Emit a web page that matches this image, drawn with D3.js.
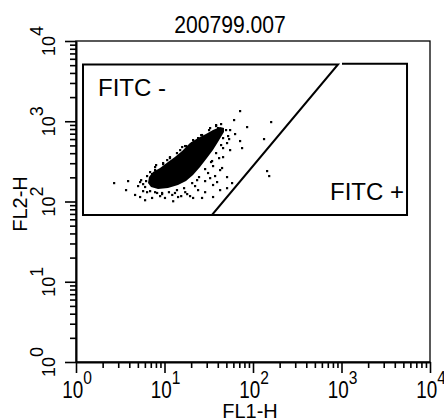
<!DOCTYPE html>
<html>
<head>
<meta charset="utf-8">
<script src="https://cdn.jsdelivr.net/npm/d3@7"></script>
<style>
  html, body { margin: 0; padding: 0; background: #fff; }
  text { font-family: "Liberation Sans", Arial, Helvetica, sans-serif; fill: #000; }
</style>
</head>
<body>
<div id="chart"></div>
<script>
// Chart text
const title = "200799.007";
const xLabel = "FL1-H";
const yLabel = "FL2-H";
const decades = [1, 10, 100, 1000, 10000];
const exponents = ["0", "1", "2", "3", "4"];

// Events [FL1, FL2]
const events = [
  [71.3, 1342], [61.0, 1037], [160, 979], [85.6, 848], [133, 601], [71.3, 568],
  [75.1, 464], [62.6, 694], [45.8, 358], [44.6, 262], [144, 240], [152, 208],
  [57.9, 170], [50.8, 147], [42.4, 139], [35.3, 161], [35.3, 114], [28.7, 131],
  [26.5, 111], [18.0, 124], [23.3, 185], [31.0, 227], [35.3, 277], [34.4, 320],
  [45.8, 464], [50.8, 536], [52.2, 655], [39.2, 175], [50.8, 202], [41.3, 348],
  [21.0, 111], [2.69, 170], [3.87, 180], [3.67, 139], [5.02, 156], [4.64, 121],
  [5.29, 114], [6.02, 104], [7.22, 111], [8.90, 117], [12.5, 101], [12.2, 121],
  [14.2, 114], [7.81, 247], [7.22, 220], [6.02, 152], [6.34, 131], [15.0, 438],
  [18.4, 478], [20.5, 536], [10.7, 329], [9.62, 293], [23.9, 618], [30.2, 637],
  [17.1, 131], [10.1, 111], [8.23, 128], [5.72, 135], [15.8, 478], [40.2, 824],
  [8.02, 285], [11.5, 358], [17.5, 492], [26.5, 675], [38.2, 898], [32.7, 824],
  [55.0, 778], [53.6, 601], [9.37, 124], [13.1, 128], [22.1, 156], [28.7, 180],
  [5.43, 185], [5.72, 165], [42.4, 247], [37.2, 208],
  // around the edge of the dense part
  [6.86, 233], [7.81, 269], [9.62, 302], [11.5, 348], [13.8, 402], [17.05, 492],
  [21.0, 584], [25.9, 674], [31.8, 778], [38.2, 873], [43.5, 924], [49.5, 778],
  [45.8, 618], [43.5, 506], [38.2, 402], [33.5, 311], [28.7, 254], [24.5, 202],
  [20.5, 170], [16.6, 147], [13.8, 139], [11.2, 131], [9.37, 128], [7.81, 131],
  [6.86, 135], [6.18, 180], [6.34, 208], [19.4, 117], [23.9, 139], [32.7, 196],
  [55.0, 438], [15.4, 117], [5.29, 175]
];

// Outline of the dense (saturated) part of the cluster
const coreOutline = [
  [6.68, 202], [7.41, 233], [8.90, 262], [10.95, 311], [13.1, 358], [15.8, 426],
  [19.4, 536], [23.9, 618], [29.4, 694], [35.3, 778], [42.4, 848], [47.0, 824],
  [47.0, 735], [40.2, 551], [35.3, 438], [30.2, 348], [25.2, 269], [21.0, 214],
  [17.5, 180], [14.2, 161], [10.95, 147], [8.45, 143], [7.04, 152], [6.51, 170]
];

// Gates
const gateNeg = [[1.2, 68], [1.2, 5100], [913, 5100], [34.4, 68]];
const gatePos = [[1013, 5200], [5500, 5200], [5500, 68], [34.4, 68]];
const gateLabels = ["FITC -", "FITC +"];

const W = 444, H = 418;
const margin = { top: 41, right: 14, bottom: 56, left: 76 };

const svg = d3.select("#chart").append("svg")
  .attr("width", W)
  .attr("height", H)
  .style("display", "block");

const x = d3.scaleLog().domain([1, 1e4]).range([margin.left, W - margin.right]);
const y = d3.scaleLog().domain([1, 1e4]).range([H - margin.bottom, margin.top]);

// tick positions 1..9 per decade
const tickVals = [];
decades.slice(0, -1).forEach(d => { for (let k = 1; k < 10; k++) tickVals.push(d * k); });
tickVals.push(1e4);
const isMajor = v => decades.includes(v);

// frame
svg.append("rect")
  .attr("x", x(1)).attr("y", y(1e4))
  .attr("width", x(1e4) - x(1)).attr("height", y(1) - y(1e4))
  .attr("fill", "none").attr("stroke", "#000").attr("stroke-width", 1.3);

// x axis
const gx = svg.append("g")
  .attr("transform", `translate(0,${y(1)})`)
  .call(d3.axisBottom(x).tickValues(tickVals).tickFormat("").tickSize(6).tickSizeOuter(0));
gx.selectAll(".tick line").attr("y2", d => isMajor(d) ? 11 : 6);

// y axis
const gy = svg.append("g")
  .attr("transform", `translate(${x(1)},0)`)
  .call(d3.axisLeft(y).tickValues(tickVals).tickFormat("").tickSize(6).tickSizeOuter(0));
gy.selectAll(".tick line").attr("x2", d => isMajor(d) ? -11 : -6);

svg.selectAll(".domain").attr("stroke", "#000").attr("stroke-width", 2);
svg.selectAll(".tick line").attr("stroke", "#000").attr("stroke-width", 1.6);

// x tick labels
decades.forEach((d, i) => {
  const t = svg.append("text")
    .attr("transform", `translate(${x(d) + 1},398) scale(0.82,1)`)
    .attr("text-anchor", "middle")
    .style("font-size", "23px");
  t.append("tspan").text("10");
  t.append("tspan").attr("dy", -14).style("font-size", "19px").text(exponents[i]);
});

// y tick labels
decades.forEach((d, i) => {
  const t = svg.append("text")
    .attr("transform", `translate(55,${y(d)}) rotate(-90)`)
    .attr("text-anchor", "middle")
    .style("font-size", "18px");
  t.append("tspan").text("10");
  t.append("tspan").attr("dy", -12).text(exponents[i]);
});

// axis titles
svg.append("text")
  .attr("transform", `translate(250,418) scale(0.95,1)`)
  .attr("text-anchor", "middle")
  .style("font-size", "21px")
  .text(xLabel);

svg.append("text")
  .attr("transform", `translate(27,204) rotate(-90)`)
  .attr("text-anchor", "middle")
  .style("font-size", "20px")
  .text(yLabel);

// title
svg.append("text")
  .attr("transform", `translate(230,33) scale(0.92,1)`)
  .attr("text-anchor", "middle")
  .style("font-size", "23px")
  .text(title);

// dense cluster core
const line = d3.line().x(d => x(d[0])).y(d => y(d[1]));
svg.append("path")
  .attr("d", line.curve(d3.curveLinearClosed)(coreOutline))
  .attr("fill", "#000");

// events
svg.append("g").selectAll("rect")
  .data(events)
  .join("rect")
  .attr("x", d => x(d[0]) - 1)
  .attr("y", d => y(d[1]) - 1)
  .attr("width", 2.2)
  .attr("height", 2.2)
  .attr("fill", "#000");

// gates
const gateLine = d3.line().x(d => x(d[0])).y(d => y(d[1]));
svg.append("path")
  .attr("d", gateLine.curve(d3.curveLinearClosed)(gateNeg))
  .attr("fill", "none").attr("stroke", "#000").attr("stroke-width", 2);
svg.append("path")
  .attr("d", d3.line().x(d => x(d[0])).y(d => y(d[1]))(gatePos))
  .attr("fill", "none").attr("stroke", "#000").attr("stroke-width", 2);

svg.append("text")
  .attr("x", x(gateNeg[0][0]) + 15)
  .attr("y", y(gateNeg[1][1]) + 32)
  .style("font-size", "24px")
  .text(gateLabels[0]);

svg.append("text")
  .attr("x", x(gatePos[1][0]) - 3)
  .attr("y", y(gatePos[2][1]) - 15)
  .attr("text-anchor", "end")
  .style("font-size", "24px")
  .text(gateLabels[1]);
</script>
</body>
</html>
